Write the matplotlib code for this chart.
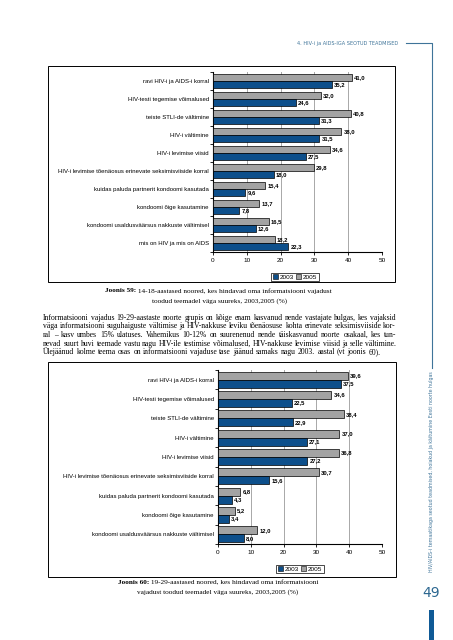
import matplotlib
matplotlib.use("Agg")
import matplotlib.pyplot as plt
from matplotlib.patches import Rectangle, Patch
from matplotlib.lines import Line2D
import numpy as np

W, H = 453, 640

# andmed - joonis 59 (14-18-aastased)
teemad59 = ["ravi HIV-i ja AIDS-i korral",
            "HIV-testi tegemise võimalused",
            "teiste STLI-de vältimine",
            "HIV-i vältimine",
            "HIV-i levimise viisid",
            "HIV-i levimise tõenäosus erinevate seksimisviiside korral",
            "kuidas paluda partnerit kondoomi kasutada",
            "kondoomi õige kasutamine",
            "kondoomi usaldusväärsus nakkuste vältimisel",
            "mis on HIV ja mis on AIDS"]
a2003_59 = [35.2, 24.6, 31.3, 31.5, 27.5, 18.0, 9.6, 7.8, 12.6, 22.3]
a2005_59 = [41.0, 32.0, 40.8, 38.0, 34.6, 29.8, 15.4, 13.7, 16.5, 18.2]

# andmed - joonis 60 (19-29-aastased)
teemad60 = teemad59[:9]
a2003_60 = [37.5, 22.5, 22.9, 27.1, 27.2, 15.6, 4.3, 3.4, 8.0]
a2005_60 = [39.6, 34.6, 38.4, 37.0, 36.8, 30.7, 6.8, 5.2, 12.0]

paragrahv = [
    "Informatsiooni vajadus 19-29-aastaste noorte grupis on kõige enam kasvanud nende vastajate hulgas, kes vajaksid",
    "väga informatsiooni suguhaiguste vältimise ja HIV-nakkuse leviku tõenäosuse kohta erinevate seksimisviiside kor-",
    "ral – kasv umbes 15% ulatuses.  Vahemikus 10-12% on suurenenud nende täiskasvanud noorte osakaal, kes tun-",
    "nevad suurt huvi teemade vastu nagu HIV-ile testimise võimalused, HIV-nakkuse levimise viisid ja selle vältimine.",
    "Ülejäänud kolme teema osas on informatsiooni vajaduse tase jäänud samaks nagu 2003. aastal (vt joonis 60).",
]

SININE = "#0d4f8b"
HALL = "#a3a3a3"
AKTSENT = "#3f7499"

fig = plt.figure(figsize=(W / 100, H / 100), dpi=100)
fig.patch.set_facecolor("white")
r = fig.canvas.get_renderer()


def fx(x):
    return x / W


def fy(y):
    return 1 - y / H


def joonis(teemad, v2003, v2005, x0, x1, y0, y1, kast, leg_xy):
    '''joonistab ühe tulpdiagrammi koos raamiga'''
    fig.patches.append(Rectangle((fx(kast[0]), fy(kast[3])), fx(kast[2] - kast[0]),
                                 (kast[3] - kast[1]) / H, transform=fig.transFigure,
                                 fill=False, ec="black", lw=0.7))
    ax = fig.add_axes([fx(x0), fy(y1), fx(x1 - x0), (y1 - y0) / H])
    n = len(teemad)
    y = np.arange(n)
    h = 0.41
    b5 = ax.barh(y - 0.205, v2005, height=h, color=HALL, edgecolor="black", lw=0.5, label="2005", zorder=3)
    b3 = ax.barh(y + 0.205, v2003, height=h, color=SININE, edgecolor="black", lw=0.5, label="2003", zorder=3)
    for bars in (b5, b3):
        ax.bar_label(bars, labels=[f"{v:.1f}".replace(".", ",") for v in bars.datavalues],
                     padding=1.5, fontsize=4.2, family="Liberation Sans", fontweight="bold")
    ax.set_xlim(0, 50)
    ax.set_ylim(n - 0.5, -0.5)
    ax.set_xticks(range(0, 51, 10))
    ax.set_yticks(np.arange(-0.5, n, 1.0))
    ax.set_yticklabels([])
    ax.set_yticks(y, minor=True)
    ax.set_yticklabels(teemad, minor=True, fontsize=4.3, family="Liberation Sans")
    ax.tick_params(axis="y", which="minor", length=0, pad=3)
    ax.tick_params(axis="y", which="major", length=2.5, width=0.6, direction="out")
    ax.tick_params(axis="x", length=2, width=0.6, labelsize=4.6, pad=2)
    for t in ax.get_xticklabels():
        t.set_family("Liberation Sans")
    ax.grid(axis="x", color="#a8a8a8", lw=0.7, zorder=0)
    ax.spines["top"].set_visible(False)
    ax.spines["right"].set_visible(False)
    ax.spines["left"].set_linewidth(0.8)
    ax.spines["bottom"].set_linewidth(0.8)
    ax.legend(handles=[Patch(fc=SININE, ec="black", lw=0.4, label="2003"),
                       Patch(fc=HALL, ec="black", lw=0.4, label="2005")],
              loc="center", bbox_to_anchor=(fx(leg_xy[0]), fy(leg_xy[1])),
              bbox_transform=fig.transFigure, ncol=2, frameon=True,
              fancybox=False, edgecolor="black", framealpha=1, handlelength=0.8,
              handleheight=0.8, handletextpad=0.2, columnspacing=0.4, borderpad=0.25,
              prop={"family": "Liberation Sans", "size": 4.6}).get_frame().set_linewidth(0.5)
    return ax


def pealkiri(osad, xc, y, size=5.2):
    '''allkiri, kus esimene osa on paksus kirjas, keskele joondatud'''
    arts = []
    for tekst, paks in osad:
        arts.append(fig.text(0, fy(y), tekst, fontsize=size, family="Liberation Serif",
                             fontweight="bold" if paks else "normal", va="center"))
    laius = [a.get_window_extent(r).width for a in arts]
    x = xc - sum(laius) / 2
    for a, w in zip(arts, laius):
        a.set_x(fx(x))
        x += w


def rida(tekst, x0, x1, y, rööpne, size):
    sonad = tekst.split()
    arts = [fig.text(0, fy(y), s, fontsize=size, family="Liberation Serif", va="center") for s in sonad]
    laius = [a.get_window_extent(r).width for a in arts]
    tyhik = fig.text(0, 0, "a a", fontsize=size, family="Liberation Serif")
    tw = tyhik.get_window_extent(r).width
    tyhik.set_text("aa")
    tw -= tyhik.get_window_extent(r).width
    tyhik.remove()
    if rööpne:
        vahe = (x1 - x0 - sum(laius)) / (len(sonad) - 1)
    else:
        vahe = tw * 1.15
    x = x0
    for a, w in zip(arts, laius):
        a.set_x(fx(x))
        x += w + vahe


joonis(teemad59, a2003_59, a2005_59, 213, 382, 72, 252, (48, 66, 395, 282), (295, 277))
joonis(teemad60, a2003_60, a2005_60, 218, 382, 370, 544, (48, 362, 396, 577), (300, 569))

pealkiri([("Joonis 59:", True), (" 14-18-aastased noored, kes hindavad oma informatsiooni vajadust", False)], 218, 291)
pealkiri([("toodud teemadel väga suureks, 2003,2005 (%)", False)], 220, 301)
pealkiri([("Joonis 60:", True), (" 19-29-aastased noored, kes hindavad oma informatsiooni", False)], 218, 583)
pealkiri([("vajadust toodud teemadel väga suureks, 2003,2005 (%)", False)], 218, 592)

# lõigu kirjasuurus nii, et esimene rida täidab laiuse
proov = fig.text(0, 0, paragrahv[0], fontsize=10, family="Liberation Serif")
psize = 10 * 350 / proov.get_window_extent(r).width
proov.remove()

ys = [318, 326.5, 335, 343.5, 352]
for i, t in enumerate(paragrahv):
    rida(t, 43, 396, ys[i], i < len(paragrahv) - 1, psize)

# päis ja äärekujundus
fig.text(fx(398), fy(43), "4. HIV-i ja AIDS-IGA SEOTUD TEADMISED", fontsize=3.6,
         color=AKTSENT, ha="right", va="center", family="DejaVu Sans")
fig.add_artist(Line2D([fx(406), fx(432), fx(432)], [fy(43), fy(43), fy(368)],
                      transform=fig.transFigure, color=AKTSENT, lw=0.8))
fig.text(fx(431), fy(472), "HIV/AIDS-i temaatikaga seotud teadmised, hoiakud ja käitumine Eesti noorte hulgas",
         fontsize=3.4, color=AKTSENT, rotation=90, ha="center", va="center", family="DejaVu Sans")
fig.text(fx(431), fy(593), "49", fontsize=10, color="#2c6790", ha="center", va="center", family="DejaVu Sans")
fig.patches.append(Rectangle((fx(429), 0), fx(5), 30 / H, transform=fig.transFigure,
                             color="#0f5a96", lw=0))

fig.savefig("out.png", dpi=100, facecolor="white")
